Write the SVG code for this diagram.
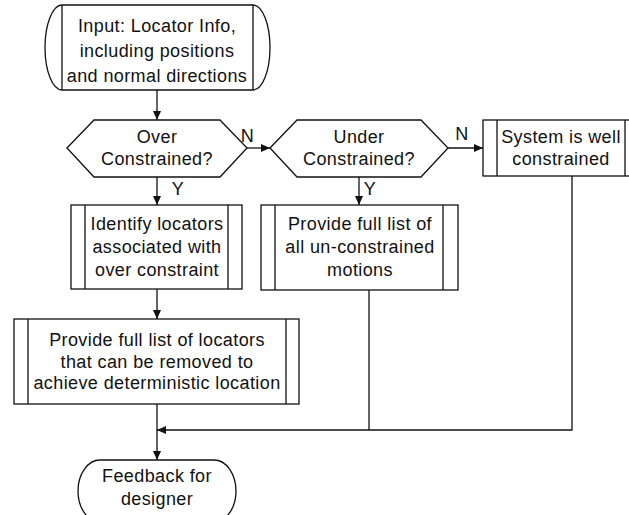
<svg xmlns="http://www.w3.org/2000/svg" width="629" height="515" viewBox="0 0 629 515">
<style>
.s{fill:#fff;stroke:#111;stroke-width:1.3}
.l{fill:none;stroke:#111;stroke-width:1.3}
text{font-family:"Liberation Sans",Arial,sans-serif;font-size:18px;letter-spacing:0.4px;fill:#111;text-anchor:middle}
</style>
<defs>
<marker id="a" markerWidth="10" markerHeight="8" refX="9" refY="4" orient="auto" markerUnits="userSpaceOnUse">
<path d="M0,0 L9,4 L0,8 Z" fill="#111"/>
</marker>
</defs>
<rect width="629" height="515" fill="#fff"/>
<g id="connectors">
<path class="l" d="M157,90 V120" marker-end="url(#a)"/>
<path class="l" d="M247,148 H270" marker-end="url(#a)"/>
<path class="l" d="M448,148 H483" marker-end="url(#a)"/>
<path class="l" d="M157,177 V205" marker-end="url(#a)"/>
<path class="l" d="M359,177 V205" marker-end="url(#a)"/>
<path class="l" d="M157,289 V319" marker-end="url(#a)"/>
<path class="l" d="M157,404 V460" marker-end="url(#a)"/>
<path class="l" d="M572,176 V430 H157" marker-end="url(#a)"/>
<path class="l" d="M369,290 V430"/>
<text x="247.5" y="142">N</text>
<text x="462" y="140">N</text>
<text x="178" y="195">Y</text>
<text x="370" y="195">Y</text>
</g>
<g id="input">
<path class="s" d="M62,5 H253 A17,42.5 0 0 1 253,90 H62 A17,42.5 0 0 1 62,5 Z"/>
<path class="l" d="M62,5 V90 M253,5 V90"/>
<text x="157" y="32">Input: Locator Info,</text>
<text x="157" y="57">including positions</text>
<text x="157" y="82">and normal directions</text>
</g>
<g id="over">
<polygon class="s" points="67,148 94,120 220,120 247,148 220,177 94,177"/>
<text x="157" y="143">Over</text>
<text x="157" y="165">Constrained?</text>
</g>
<g id="under">
<polygon class="s" points="270,148 297,120 421,120 448,148 421,177 297,177"/>
<text x="359" y="143">Under</text>
<text x="359" y="165">Constrained?</text>
</g>
<g id="well">
<rect class="s" x="483" y="120" width="160" height="56"/>
<path class="l" d="M497,120 V176 M625,120 V176"/>
<text x="561" y="143">System is well</text>
<text x="561" y="165">constrained</text>
</g>
<g id="identify">
<rect class="s" x="71" y="205" width="171" height="84"/>
<path class="l" d="M85,205 V289 M228,205 V289"/>
<text x="157" y="230">Identify locators</text>
<text x="157" y="253">associated with</text>
<text x="157" y="276">over constraint</text>
</g>
<g id="unconstrained">
<rect class="s" x="261" y="205" width="197" height="85"/>
<path class="l" d="M275,205 V290 M443,205 V290"/>
<text x="360" y="230">Provide full list of</text>
<text x="360" y="253">all un-constrained</text>
<text x="360" y="276">motions</text>
</g>
<g id="removable">
<rect class="s" x="14" y="319" width="285" height="85"/>
<path class="l" d="M28,319 V404 M286,319 V404"/>
<text x="157" y="346">Provide full list of locators</text>
<text x="157" y="368">that can be removed to</text>
<text x="157" y="389">achieve deterministic location</text>
</g>
<g id="feedback">
<rect class="s" x="78" y="460" width="158" height="62" rx="22" ry="31"/>
<text x="157" y="482">Feedback for</text>
<text x="157" y="505">designer</text>
</g>
</svg>
